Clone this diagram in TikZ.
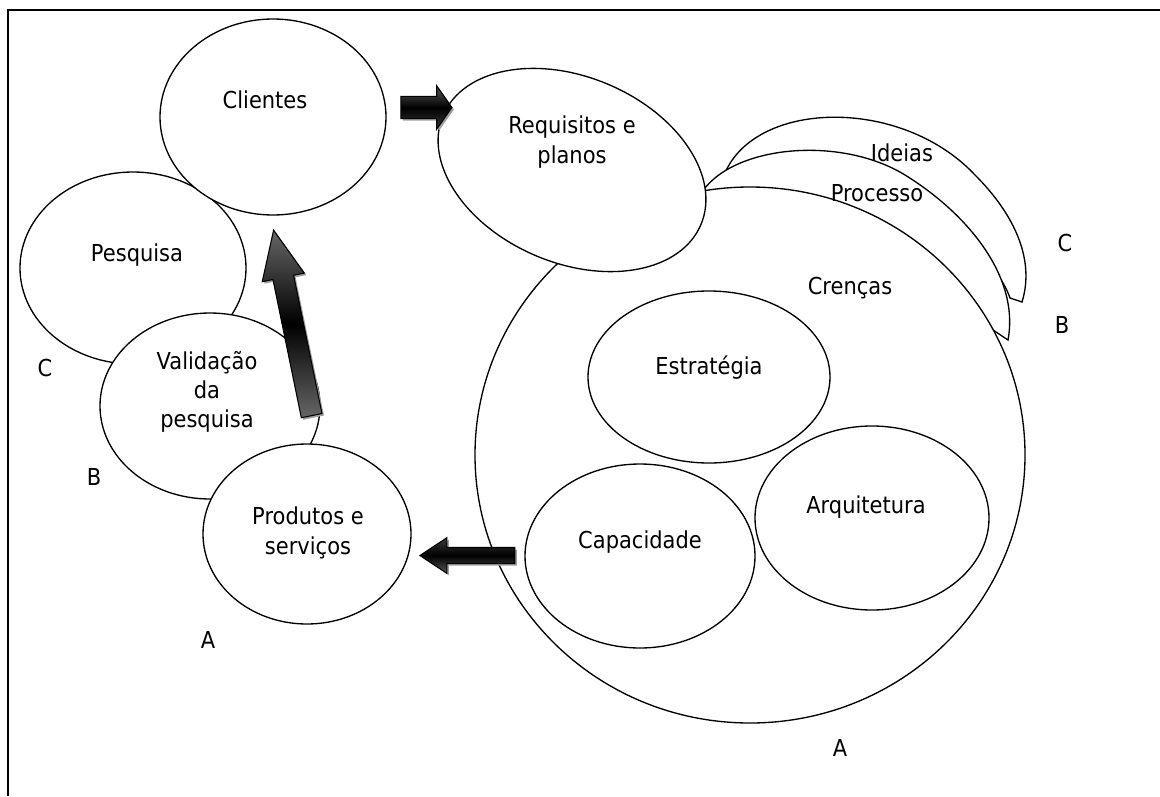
\documentclass[tikz,border=0pt]{standalone}
\usepackage{fontspec}
\setmainfont{DejaVu Sans}[FakeStretch=0.9]
\usetikzlibrary{shapes.geometric,shapes.arrows,shadows}

\tikzset{
  bubble/.style={draw, ellipse, line width=1pt, fill=white, inner sep=0pt},
  word/.style={inner sep=0pt, align=center},
  fatarrow/.style={single arrow, draw, line width=0.8pt, inner xsep=0pt,
    minimum width=0pt, single arrow head indent=0pt,
    drop shadow={shadow xshift=1.5pt, shadow yshift=-1.5pt, fill=gray!75, opacity=1}},
}

\begin{document}
\begin{tikzpicture}[x=0.75pt, y=-0.75pt]

\fontsize{17.5}{22}\selectfont
\path [use as bounding box] (0,0) rectangle (1160,796);

% FRAME
\draw [line width=1.2pt] (8,796) -- (8,10) -- (1160,10);

% LEFT CYCLE
\node [bubble, minimum width=169.5pt, minimum height=144pt] (pes) at (133,268) {};
\node [bubble, minimum width=169.5pt, minimum height=147pt] (cli) at (273,117) {};
\node [bubble, minimum width=165pt, minimum height=139.5pt] (val) at (210,406) {};
\node [bubble, minimum width=156pt, minimum height=135pt] (pro) at (307,534) {};

% CRESCENTS
\filldraw [line width=1pt, fill=white] (723,178)
  .. controls (750,100) and (900,95) .. (975,175)
  .. controls (1015,215) and (1035,260) .. (1022,302) -- (1010,298)
  .. controls (990,240) and (880,175) .. (800,172) -- (723,185) -- cycle;
\filldraw [line width=1pt, fill=white] (700,195)
  .. controls (730,145) and (840,135) .. (905,175)
  .. controls (965,212) and (1020,275) .. (1008,340) -- (990,328)
  -- (900,265) -- (690,215) -- cycle;

% BELIEFS
\node [bubble, minimum width=412.5pt, minimum height=402pt] (cre) at (750,455) {};
\node [bubble, minimum width=181.5pt, minimum height=129pt] (est) at (709,377) {};
\node [bubble, minimum width=175.5pt, minimum height=138pt] (arq) at (872,518) {};
\node [bubble, minimum width=172.5pt, minimum height=138pt] (cap) at (640,556) {};
\node [bubble, rotate=-23, minimum width=210pt, minimum height=139.5pt] (req) at (572,170) {};

% TEXTS
\node [word] (cli-t) at (265,100) {Clientes};
\node [word] (pes-t) at (137,255) {Pesquisa};
\node [word] (val-t) at (207,392) {Validação\\da\\pesquisa};
\node [word] (pro-t) at (308,533) {Produtos e\\serviços};
\node [word] (req-t) at (572,142) {Requisitos e\\planos};
\node [word] (ide-t) at (902,153) {Ideias};
\node [word] (prc-t) at (877,193) {Processo};
\node [word] (cre-t) at (850,288) {Crenças};
\node [word] (est-t) at (709,368) {Estratégia};
\node [word] (arq-t) at (866,507) {Arquitetura};
\node [word] (cap-t) at (640,542) {Capacidade};

% LEVELS
\node [word] (lc1) at (45,368) {C};
\node [word] (lb1) at (94,477) {B};
\node [word] (la1) at (208,640) {A};
\node [word] (lc2) at (1065,243) {C};
\node [word] (lb2) at (1062,325) {B};
\node [word] (la2) at (840,748) {A};

% ARROWS
\node [fatarrow, minimum height=38.25pt, inner ysep=7.9pt, single arrow head extend=7.9pt,
  single arrow tip angle=110, top color=gray!70!black, bottom color=gray!45!black, middle color=black]
  (go-req) at (422.5,107.5) {};
\node [fatarrow, rotate=101.6, minimum height=142pt, inner ysep=7.5pt, single arrow head extend=8.2pt,
  single arrow tip angle=48, top color=gray!80!black, bottom color=gray!80!black, middle color=black]
  (go-cli) at (295,334.5) {};
\node [fatarrow, rotate=180, minimum height=71.25pt, inner ysep=5.6pt, single arrow head extend=7.4pt,
  single arrow tip angle=67, top color=gray!45!black, bottom color=gray!70!black, middle color=black]
  (go-pro) at (473.5,555.5) {};

\end{tikzpicture}
\end{document}
